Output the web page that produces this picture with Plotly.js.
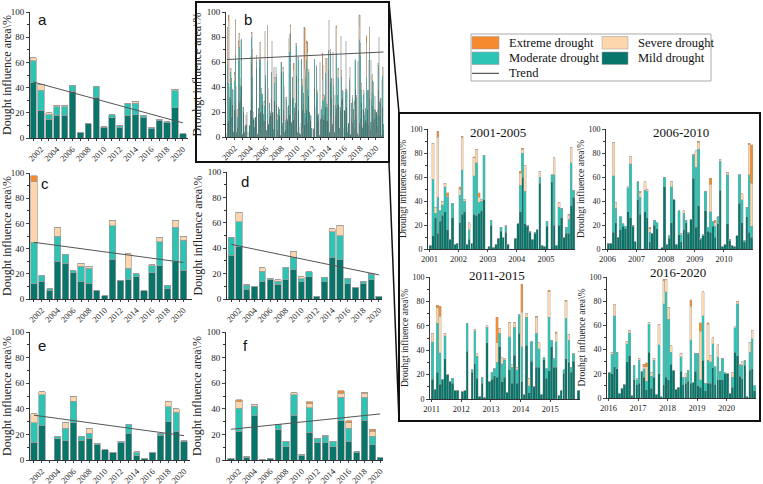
<!DOCTYPE html>
<html><head><meta charset="utf-8">
<script src="https://cdn.plot.ly/plotly-3.0.1.min.js"></script>
<style>html,body{margin:0;padding:0;background:#fff}#chart{width:763px;height:484px}</style>
</head><body><div id="chart"></div>
<script>
// ---------- DATA ----------
const years = [2001,2002,2003,2004,2005,2006,2007,2008,2009,2010,2011,2012,2013,2014,2015,2016,2017,2018,2019,2020];
const tickYears = [2002,2004,2006,2008,2010,2012,2014,2016,2018,2020];

const aMild     = [44,22,15,18,18,37,4.5,11.5,32.5,8.5,16,8.5,18,18.5,16.5,7.5,14,12,24,3.5];
const aModerate = [17.5,16,3.5,7,7,5,0,0,8.5,0.5,2.5,1.5,9,9,1.5,0.5,1,1,13.5,0];
const aSevere   = [2,4.5,1.5,1,1,0,0,0,0,0,0,0,0.5,1.5,0,0,0,0,1,0];
const aExtreme  = [0,0,0,0,0,0,0,0,0,0,0,0,0,0,0,0,0,0,0,0];

const cMild     = [12,14,7,30,28.5,21,13.5,12.5,7,2.5,31.5,15,15.5,17.5,6.5,21,26.5,8,30,23];
const cModerate = [33,5,1,20,7,1.5,12.5,12,0,0,26.5,0,9,2.5,0,5.5,19,3,27,23.5];
const cSevere   = [48,0,0,7,0,0,2.5,1.5,0,0,4,0,11.5,0,0,0.5,3.5,0,5.5,3];
const cExtreme  = [5,0,0,0,0,0,0,0,0,0,0,0,0,0,0,0,0,0,0,0];

const dMild     = [34.5,41,7.5,9.5,14,15,11.5,15,23,13.5,17.5,2,13.5,33,31.5,12,9,12,15,2];
const dModerate = [14,20,3.5,0,8,1.5,2.5,10,10,2.5,4,0,3.5,20,18.5,4,0,1.5,4.5,0];
const dSevere   = [0,7.5,0.5,0,2.5,0,1,0,4.5,1.5,0,0,0,2.5,8,0.5,0,0.5,0.5,0];
const dExtreme  = [0,0,0,0,0,0,0,0,0,0,0,0,0,0,0,0,0,0,0,0];

const eMild     = [14,27,0,16.5,15,29,15.5,17,12,8,6,13.5,21,3.5,1.5,6,19.5,30,22.5,14.5];
const eModerate = [15,24,0,2,10,17,3,4,1,0,0,1,6.5,2,0,0,1,11.5,15,0.5];
const eSevere   = [7,2.5,0,0,4,4,0,3.5,0,0,0,0,0.5,1,0,0,0,4,2.5,0];
const eExtreme  = [0,0,0,0,0,0,0,0.5,0,0,0,0,0,0,0,0,0,0.5,0,0];

const fMild     = [1.5,22.5,2,34.5,0.5,1.5,23.5,10.5,35,3.5,21.5,14,13.5,10.5,30.5,14.5,6,31,12,2];
const fModerate = [0,18,1,7.5,0,0,4.5,4,16,1,19.5,3,5,4,18.5,10.5,0.5,18,6.5,0];
const fSevere   = [0,5,0,1,0,0,0,0,1.5,0,3,0,1,0,3,4,0,3,4,0];
const fExtreme  = [0,1.5,0,0,0,0,0,0,0,0,1.5,0,0,0,2,1.5,0,1,1.5,0];

// trend line end values (first year, last year)
const trendA = [44.5, 12];
const trendB = [62, 68];
const trendC = [45, 29];
const trendD = [43, 19];
const trendE = [35, 19];
const trendF = [24, 36];

// monthly 2001-2005
const m1Mild     = [3,11,26,13,23,28,31,16,8,26,4,5, 22,29,31,4,8,5,29,28,30,32,41,0, 2,20,1,4,9,15,10,14,4,0,0,9, 21,31,60,21,19,14,8,13,16,55,3,2, 19,0,56,20,3,20,26,10,13,13,36,43];
const m1Moderate = [0,47,4,30,9,9,21,27,0,12,0,0, 23,37,9,0,8,0,32,44,9,8,37,0, 0,4,0,0,0,3,0,5,0,0,0,0, 0,22,20,27,1,1,0,1,0,5,0,0, 4,0,6,42,0,15,8,0,5,12,36,6];
const m1Severe   = [0,30,5,50,0,3,3,1,0,0,0,0, 5,27,1,0,6,0,15,11,4,1,0,0, 0,0,0,0,0,0,0,1,0,0,0,0, 0,10,3,22,0,0,0,0,0,5,0,0, 0,0,0,14,0,4,0,0,0,3,13,0];
const m1Extreme  = [0,0,0,5,0,0,0,3,0,0,0,0, 2,1,0,0,0,0,1,0,4,0,0,0, 0,0,0,0,0,0,0,0,0,0,0,0, 0,2,1,0,0,0,0,0,0,0,0,0, 0,0,0,0,0,0,0,0,0,1,0,0];
// monthly 2006-2010
const m2Mild     = [5,5,14,22,10,16,19,17,31,26,19,6, 41,29,0,31,26,6,13,20,17,0,1,52, 4,9,22,41,4,12,6,16,22,13,25,59, 18,36,8,11,32,15,14,19,10,21,49,2, 4,21,7,3,2,11,38,22,6,27,14,10];
const m2Moderate = [0,0,47,12,0,11,2,2,20,45,1,0, 15,14,0,18,22,8,0,4,5,0,0,8, 0,2,30,0,0,20,6,14,2,1,0,19, 50,47,1,1,16,3,17,4,9,6,24,0, 0,41,1,0,0,0,24,19,1,8,48,9];
const m2Severe   = [0,0,28,5,0,0,0,0,1,6,0,0, 0,4,0,7,2,3,0,0,0,0,0,0, 0,0,4,0,0,0,1,2,0,0,0,1, 14,6,0,0,0,0,23,0,3,0,2,0, 0,2,0,0,0,0,0,5,0,0,25,36];
const m2Extreme  = [0,0,0,0,0,0,0,0,0,0,0,0, 0,1,0,0,0,1,0,0,0,0,0,0, 0,0,0,0,0,0,0,0,0,0,0,0, 0,1,0,0,0,0,5,0,2,0,0,0, 0,0,0,0,0,0,0,0,0,0,1,32];
// monthly 2011-2015
const m3Mild     = [16,8,22,12,16,33,20,14,13,7,7,0, 6,7,39,0,22,29,17,2,13,1,46,14, 16,19,18,43,14,18,5,24,13,36,13,54, 14,4,44,5,31,10,26,26,4,32,17,23, 43,26,26,3,7,21,33,30,22,31,0,7];
const m3Moderate = [31,0,40,26,0,19,0,0,4,0,0,0, 0,0,23,0,2,27,18,0,5,0,13,0, 6,6,12,11,15,14,0,27,13,23,11,15, 29,0,23,6,16,0,28,15,0,2,8,44, 5,7,21,0,0,3,33,18,4,6,0,0];
const m3Severe   = [7,0,13,30,0,2,0,0,0,0,0,0, 0,0,0,0,0,1,2,0,0,0,1,0, 0,0,16,4,5,1,0,12,2,4,2,0, 28,0,3,6,0,0,13,5,0,0,0,21, 0,0,7,0,0,0,14,5,0,0,0,0];
const m3Extreme  = [0,0,2,8,0,0,0,0,0,0,0,0, 0,0,0,0,0,0,0,0,0,0,0,0, 0,0,21,0,0,0,0,0,0,0,0,0, 23,0,0,0,0,0,1,0,0,0,0,1, 0,0,1,0,0,0,1,0,0,0,0,0];
// monthly 2016-2020
const m4Mild     = [21,20,26,24,4,8,11,30,35,2,15,11, 12,22,17,7,38,8,17,3,20,1,11,17, 15,28,23,7,9,22,11,12,14,12,13,22, 10,9,31,6,12,12,25,11,15,15,15,20, 20,4,9,38,35,18,16,27,1,23,24,6];
const m4Moderate = [0,16,42,14,0,0,0,15,19,0,12,4, 19,0,7,7,23,10,14,0,24,0,67,71, 50,10,0,0,0,12,6,5,9,36,0,15, 27,6,37,6,19,18,20,15,19,7,18,1, 0,0,8,20,43,9,11,4,0,15,25,4];
const m4Severe   = [0,2,9,0,0,0,0,2,2,0,0,1, 2,0,2,12,1,3,2,0,17,0,19,10, 10,5,0,0,0,3,0,3,0,28,0,0, 0,40,20,0,30,5,5,0,10,0,0,0, 0,0,4,1,2,1,3,0,0,8,7,0];
const m4Extreme  = [0,0,0,0,0,0,0,0,0,0,0,0, 0,0,2,3,0,0,0,0,0,0,1,0, 0,0,0,0,0,0,0,0,0,5,0,0, 0,7,0,0,1,0,0,0,0,0,0,0, 0,0,0,0,0,0,0,0,0,0,0,0];

const legendLabels = ['Extreme drought','Severe drought','Moderate drought','Mild drought','Trend'];

// ---------- STYLE ----------
const SERIF = 'Liberation Serif, Times New Roman, serif';
const COL = {mild:'#08756B', mod:'#2DC4B4', sev:'#FDD6AB', ext:'#F58A2E', edge:'#9d9d9d', trend:'#555555'};
const W = 763, H = 484;
const px = v => v / W, py = v => 1 - v / H;

function monthDates(y0, y1){
  const out = [];
  for (let y = y0; y <= y1; y++) for (let m = 1; m <= 12; m++) out.push(y + '-' + String(m).padStart(2,'0') + '-15');
  return out;
}

const traces = [];
function addStack(x, mild, mod, sev, ext, n, width, lw, edge){
  const xa = 'x' + (n === 1 ? '' : n), ya = 'y' + (n === 1 ? '' : n);
  [[mild,COL.mild],[mod,COL.mod],[sev,COL.sev],[ext,COL.ext]].forEach(([v,c]) => {
    traces.push({type:'bar', x:x, y:v, xaxis:xa, yaxis:ya, width:width,
      marker:{color:c, line:{color:edge || COL.edge, width:lw}}, showlegend:false, hoverinfo:'skip'});
  });
}
function addTrend(x, y, n){
  const xa = 'x' + (n === 1 ? '' : n), ya = 'y' + (n === 1 ? '' : n);
  traces.push({type:'scatter', mode:'lines', x:x, y:y, xaxis:xa, yaxis:ya,
    line:{color:COL.trend, width:1}, showlegend:false, hoverinfo:'skip'});
}

const MONTH = 30.4 * 86400000;
// annual panels
addStack(years, aMild, aModerate, aSevere, aExtreme, 1, 0.8, 0.7);
addStack(years, cMild, cModerate, cSevere, cExtreme, 3, 0.8, 0.7);
addStack(years, dMild, dModerate, dSevere, dExtreme, 4, 0.8, 0.7);
addStack(years, eMild, eModerate, eSevere, eExtreme, 5, 0.8, 0.7);
addStack(years, fMild, fModerate, fSevere, fExtreme, 6, 0.8, 0.7);
const ends = [years[0], years[years.length-1]];
addTrend(ends, trendA, 1);
addTrend(ends, trendC, 3);
addTrend(ends, trendD, 4);
addTrend(ends, trendE, 5);
addTrend(ends, trendF, 6);
// panel b : all months
const allMonths = monthDates(2001, 2020);
addStack(allMonths, m1Mild.concat(m2Mild, m3Mild, m4Mild), m1Moderate.concat(m2Moderate, m3Moderate, m4Moderate),
  m1Severe.concat(m2Severe, m3Severe, m4Severe), m1Extreme.concat(m2Extreme, m3Extreme, m4Extreme), 2, MONTH, 0.35, '#8c8c8c');
addTrend([allMonths[0], allMonths[allMonths.length-1]], trendB, 2);
// monthly zoom panels
addStack(monthDates(2001,2005), m1Mild, m1Moderate, m1Severe, m1Extreme, 7, MONTH*0.97, 0.35);
addStack(monthDates(2006,2010), m2Mild, m2Moderate, m2Severe, m2Extreme, 8, MONTH*0.97, 0.35);
addStack(monthDates(2011,2015), m3Mild, m3Moderate, m3Severe, m3Extreme, 9, MONTH*0.97, 0.35);
addStack(monthDates(2016,2020), m4Mild, m4Moderate, m4Severe, m4Extreme, 10, MONTH*0.97, 0.35);

// ---------- AXES ----------
const layout = {width:W, height:H, margin:{l:0,r:0,t:0,b:0}, barmode:'stack',
  paper_bgcolor:'#fff', plot_bgcolor:'rgba(0,0,0,0)', showlegend:false,
  shapes:[], annotations:[]};

function yAx(n, top, bottom, xref, title, tsize, fsize){
  return {domain:[py(bottom), py(top)], range:[0,100], anchor:xref, dtick:20, ticks:'outside', ticklen:3, tickwidth:1,
    showline:true, linecolor:'#333', linewidth:1, showgrid:false, zeroline:false,
    tickfont:{family:SERIF, size:fsize, color:'#222'},
    minor:{dtick:10, ticks:'outside', ticklen:2, tickcolor:'#333'},
    title:{text:title, font:{family:SERIF, size:tsize, color:'#222'}, standoff:2}};
}
function xAnnual(left, right, range, yref){
  return {domain:[px(left), px(right)], range:range, anchor:yref, tickmode:'array',
    tickvals:tickYears, ticktext:tickYears.map(String), tickangle:-45, ticks:'outside', ticklen:2,
    showline:true, linecolor:'#333', linewidth:1, showgrid:false, zeroline:false,
    tickfont:{family:SERIF, size:8.5, color:'#222'},
    minor:{tickmode:'array', tickvals:years, ticks:'outside', ticklen:2, tickcolor:'#333'}};
}
function xMonthly(left, right, range, yref, y0){
  const tv = [y0, y0+1, y0+2, y0+3, y0+4];
  return {type:'date', domain:[px(left), px(right)], range:range, anchor:yref, tickmode:'array',
    tickvals:tv.map(y => y + '-01-01'), ticktext:tv.map(String), tickangle:0, ticks:'outside', ticklen:2,
    showline:true, linecolor:'#333', linewidth:1, showgrid:false, zeroline:false,
    tickfont:{family:SERIF, size:8.5, color:'#222'}};
}

const T1 = 'Dought influence area\\%', T2 = 'Drouhgt influence area\\%';
layout.xaxis  = xAnnual(30, 188, [2000.6, 2020.65], 'y');
layout.yaxis  = yAx(1, 12, 138, 'x', T1, 12, 9);
layout.xaxis2 = Object.assign(xAnnual(226, 384, ['2000-12-05','2021-01-10'], 'y2'), {type:'date',
  tickvals:tickYears.map(y => y + '-01-01'), minor:{tickmode:'array', tickvals:years.map(y => y + '-01-01'), ticks:'outside', ticklen:2, tickcolor:'#333'}});
layout.yaxis2 = yAx(2, 12, 137, 'x2', T2, 12, 9);
layout.xaxis3 = xAnnual(30, 192, [2000.5, 2021.1], 'y3');
layout.yaxis3 = yAx(3, 173, 299, 'x3', T1, 12, 9);
layout.xaxis4 = xAnnual(227, 382, [2000.45, 2020.4], 'y4');
layout.yaxis4 = yAx(4, 172, 299, 'x4', T1, 12, 9);
layout.xaxis5 = xAnnual(30, 190, [2000.5, 2020.75], 'y5');
layout.yaxis5 = yAx(5, 332, 460, 'x5', T1, 12, 9);
layout.xaxis6 = xAnnual(226, 383, [2000.36, 2020.35], 'y6');
layout.yaxis6 = yAx(6, 332, 460, 'x6', T1, 12, 9);
layout.xaxis7 = xMonthly(428, 575, ['2000-12-13','2006-01-01'], 'y7', 2001);
layout.yaxis7 = yAx(7, 129, 249, 'x7', T2, 9.5, 8);
layout.xaxis8 = xMonthly(606, 753, ['2005-12-13','2011-01-01'], 'y8', 2006);
layout.yaxis8 = yAx(8, 129, 249, 'x8', T2, 9.5, 8);
layout.xaxis9 = xMonthly(430, 580, ['2010-12-13','2016-01-01'], 'y9', 2011);
layout.yaxis9 = yAx(9, 277, 399, 'x9', T2, 9.5, 8);
layout.xaxis10 = xMonthly(607, 756, ['2015-12-13','2021-01-01'], 'y10', 2016);
layout.yaxis10 = yAx(10, 277, 398, 'x10', T2, 9.5, 8);

// ---------- DECORATION ----------
function line(x0,y0,x1,y1,w,c){ layout.shapes.push({type:'line', xref:'paper', yref:'paper', x0:px(x0), y0:py(y0), x1:px(x1), y1:py(y1), line:{color:c||'#000', width:w}}); }
function rect(x0,y0,x1,y1,fill,lc,lw){ layout.shapes.push({type:'rect', xref:'paper', yref:'paper', x0:px(x0), y0:py(y0), x1:px(x1), y1:py(y1), fillcolor:fill, line:{color:lc, width:lw}}); }
function text(x,y,t,size,fam,anchor){ layout.annotations.push({xref:'paper', yref:'paper', x:px(x), y:py(y), text:t, showarrow:false, xanchor:anchor||'center', yanchor:'middle', font:{family:fam||SERIF, size:size, color:'#111'}}); }

// boxes and connectors
rect(196,2,389,162,'rgba(0,0,0,0)','#111',2);
rect(399,113,760,421,'rgba(0,0,0,0)','#111',2);
line(389,2,399,113,1.5,'#111');
line(389,162,399,421,1.5,'#111');

// panel letters
const SANS = 'Liberation Sans, Arial, sans-serif';
text(42,20,'a',15,SANS); text(248,19,'b',15,SANS); text(45,183,'c',15,SANS);
text(245,182,'d',15,SANS); text(42,345,'e',15,SANS); text(245,345,'f',15,SANS);

// monthly panel titles
text(498,133,'2001-2005',13); text(681,132,'2006-2010',13);
text(497,275,'2011-2015',13); text(678,272,'2016-2020',13);

// legend
rect(471,34,711,81,'#fff','#aaa',1);
rect(472,36.5,499,49,COL.ext,'#999',0.5);  text(506.5,42.5,legendLabels[0],12.5,SERIF,'left');
rect(602,36.5,628,49,COL.sev,'#999',0.5);  text(635.5,42.5,legendLabels[1],12.5,SERIF,'left');
rect(472,52,499,64.5,COL.mod,'#999',0.5);  text(506.5,58,legendLabels[2],12.5,SERIF,'left');
rect(602,52,628,64.5,COL.mild,'#999',0.5); text(635.5,58,legendLabels[3],12.5,SERIF,'left');
line(472,73.3,499,73.3,1,'#333');          text(506.5,73.3,legendLabels[4],12.5,SERIF,'left');

Plotly.newPlot('chart', traces, layout, {staticPlot:true, displayModeBar:false});
</script></body></html>
